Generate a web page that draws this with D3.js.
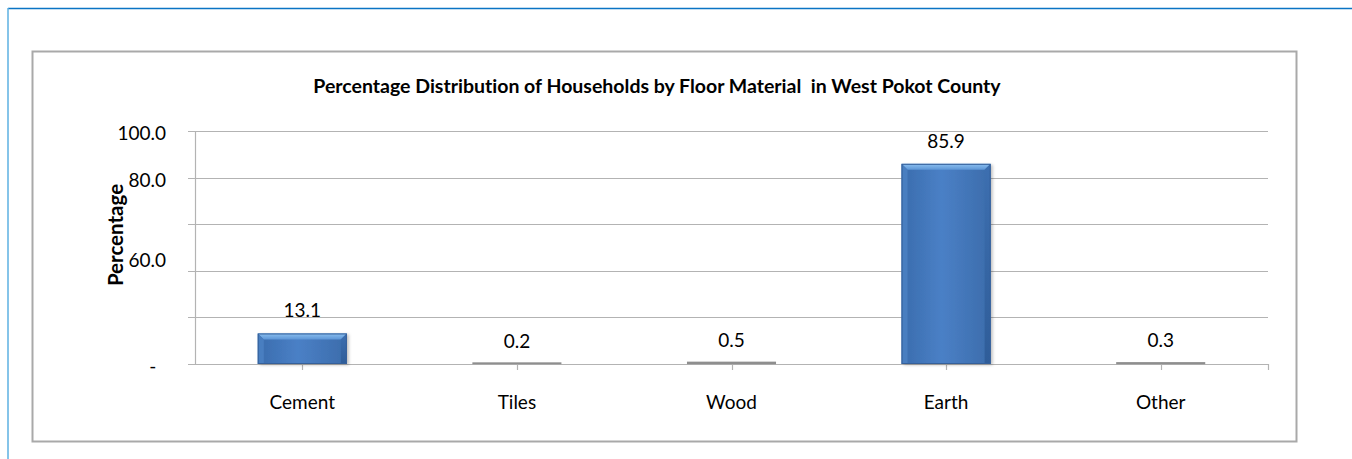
<!DOCTYPE html>
<html>
<head>
<meta charset="utf-8">
<script src="https://cdn.jsdelivr.net/npm/d3@7"></script>
<style>
  html, body { margin: 0; padding: 0; background: #fff; }
  svg { display: block; }
  text { font-family: Lato, "Open Sans", sans-serif; fill: #000; font-variant-ligatures: none; font-feature-settings: "liga" 0, "clig" 0; }
</style>
</head>
<body>
<svg id="chart" width="1352" height="459"></svg>
<script>
// ---- data ----
const categories = ["Cement", "Tiles", "Wood", "Earth", "Other"];
const values = [13.1, 0.2, 0.5, 85.9, 0.3];
const valueLabels = ["13.1", "0.2", "0.5", "85.9", "0.3"];
const gridValues = [0, 20, 40, 60, 80, 100];
// tick labels as printed in the source (their printed positions are irregular)
const tickLabels = ["-\u00a0\u00a0", "60.0", "80.0", "100.0"];
const tickLabelAt = [-0.9, 44.7, 78.9, 99.1];
const chartTitle = "Percentage Distribution of Households by Floor Material  in West Pokot County";
const yTitle = "Percentage";

const svg = d3.select("#chart");
const W = 1352, H = 459;

// outer frame (blue)
svg.append("line").attr("x1", 8).attr("x2", W).attr("y1", 8.5).attr("y2", 8.5)
  .attr("stroke", "#0b74c4").attr("stroke-width", 1.5);
svg.append("line").attr("x1", 8).attr("x2", 8).attr("y1", 8).attr("y2", H)
  .attr("stroke", "#5db0e2").attr("stroke-width", 1.5);

// inner chart box (gray)
svg.append("rect").attr("x", 32.5).attr("y", 51.5).attr("width", 1264).attr("height", 390)
  .attr("fill", "#fff").attr("stroke", "#a9a9a9").attr("stroke-width", 2);

const plot = { left: 195, right: 1268, top: 131, bottom: 364 };

const x = d3.scaleBand().domain(categories).range([plot.left, plot.right])
  .paddingInner(0.585).paddingOuter(0.2925);
const xc = d3.scaleBand().domain(categories).range([plot.left, plot.right]);
const y = d3.scaleLinear().domain([0, 100]).range([plot.bottom, plot.top]);

// gridlines (with outward tick stubs)
svg.append("g").selectAll("line").data(gridValues.filter(v => v > 0)).join("line")
  .attr("x1", plot.left - 7).attr("x2", plot.right)
  .attr("y1", d => Math.round(y(d)) + 0.5).attr("y2", d => Math.round(y(d)) + 0.5)
  .attr("stroke", "#b3b3b3").attr("stroke-width", 1.2);

// y axis line
svg.append("line").attr("x1", plot.left + 0.5).attr("x2", plot.left + 0.5)
  .attr("y1", y(100)).attr("y2", y(0) + 1)
  .attr("stroke", "#b3b3b3").attr("stroke-width", 1.2);

// x axis line
svg.append("line").attr("x1", plot.left - 7).attr("x2", plot.right)
  .attr("y1", Math.round(y(0)) + 0.5).attr("y2", Math.round(y(0)) + 0.5)
  .attr("stroke", "#b3b3b3").attr("stroke-width", 1.2);

// x ticks at category centres and at right end
const xTickPos = categories.map(c => xc(c) + xc.bandwidth() / 2).concat([plot.right]);
svg.append("g").selectAll("line").data(xTickPos).join("line")
  .attr("x1", d => Math.round(d) + 0.5).attr("x2", d => Math.round(d) + 0.5)
  .attr("y1", y(0)).attr("y2", y(0) + 6)
  .attr("stroke", "#b3b3b3").attr("stroke-width", 1.2);

// y tick labels
svg.append("g").selectAll("text").data(tickLabels).join("text")
  .attr("x", 166).attr("y", (d, i) => y(tickLabelAt[i]))
  .attr("dy", "0.36em").attr("text-anchor", "end")
  .attr("font-size", 19).text(d => d);

// defs: bar gradients
const defs = svg.append("defs");
const gBody = defs.append("linearGradient").attr("id", "gBody").attr("x1", 0).attr("x2", 1).attr("y1", 0).attr("y2", 0);
gBody.append("stop").attr("offset", "0%").attr("stop-color", "#3a6cad");
gBody.append("stop").attr("offset", "45%").attr("stop-color", "#4a80c6");
gBody.append("stop").attr("offset", "100%").attr("stop-color", "#3c6cab");
const gTop = defs.append("linearGradient").attr("id", "gTop").attr("x1", 0).attr("x2", 0).attr("y1", 0).attr("y2", 1);
gTop.append("stop").attr("offset", "0%").attr("stop-color", "#8cc0f0");
gTop.append("stop").attr("offset", "100%").attr("stop-color", "#5c95d6");
const gSide = defs.append("linearGradient").attr("id", "gSide").attr("x1", 0).attr("x2", 0).attr("y1", 0).attr("y2", 1);
gSide.append("stop").attr("offset", "0%").attr("stop-color", "#3d6fb0");
gSide.append("stop").attr("offset", "100%").attr("stop-color", "#2f5d99");
const fShadow = defs.append("filter").attr("id", "shadow").attr("x", "-20%").attr("y", "-20%").attr("width", "140%").attr("height", "140%");
fShadow.append("feDropShadow").attr("dx", 2).attr("dy", 1).attr("stdDeviation", 1.5).attr("flood-color", "#000").attr("flood-opacity", 0.25);

// bars
const bars = svg.append("g").selectAll("g").data(categories).join("g");
bars.each(function (c, i) {
  const g = d3.select(this);
  const bx = x(c), bw = x.bandwidth();
  const by = y(values[i]), bh = y(0) - y(values[i]);
  if (bh < 3) {
    g.append("rect").attr("x", bx).attr("y", by - 1.2).attr("width", bw).attr("height", bh + 1.4)
      .attr("fill", "#8e8e8e");
    return;
  }
  const b = 6; // bevel
  g.append("rect").attr("x", bx).attr("y", by).attr("width", bw).attr("height", bh)
    .attr("fill", "url(#gBody)").attr("filter", "url(#shadow)");
  g.append("polygon").attr("points", [[bx, by], [bx + bw, by], [bx + bw - b, by + b], [bx + b, by + b]].join(" "))
    .attr("fill", "url(#gTop)");
  g.append("polygon").attr("points", [[bx, by], [bx + b, by + b], [bx + b, by + bh], [bx, by + bh]].join(" "))
    .attr("fill", "#4a7fc2").attr("opacity", 0.9);
  g.append("polygon").attr("points", [[bx + bw, by], [bx + bw - b, by + b], [bx + bw - b, by + bh], [bx + bw, by + bh]].join(" "))
    .attr("fill", "url(#gSide)");
  g.append("rect").attr("x", bx + 0.5).attr("y", by + 0.5).attr("width", bw - 1).attr("height", bh - 1)
    .attr("fill", "none").attr("stroke", "#35609a").attr("stroke-width", 1);
});

// value labels
svg.append("g").selectAll("text").data(categories).join("text")
  .attr("x", c => x(c) + x.bandwidth() / 2)
  .attr("y", (c, i) => y(values[i]) - 16)
  .attr("text-anchor", "middle").attr("font-size", 19)
  .text((c, i) => valueLabels[i]);

// category labels
svg.append("g").selectAll("text").data(categories).join("text")
  .attr("x", c => xc(c) + xc.bandwidth() / 2)
  .attr("y", y(0) + 45)
  .attr("text-anchor", "middle").attr("font-size", 19)
  .text(c => c);

// title
svg.append("text").attr("x", 657).attr("y", 93).attr("text-anchor", "middle")
  .attr("font-size", 19.5).attr("font-weight", "bold")
  .attr("xml:space", "preserve").style("white-space", "pre")
  .text(chartTitle);

// y-axis title
svg.append("text").attr("transform", "translate(123,235) rotate(-90)")
  .attr("text-anchor", "middle").attr("font-size", 20.5).attr("font-weight", "bold")
  .text(yTitle);
</script>
</body>
</html>
